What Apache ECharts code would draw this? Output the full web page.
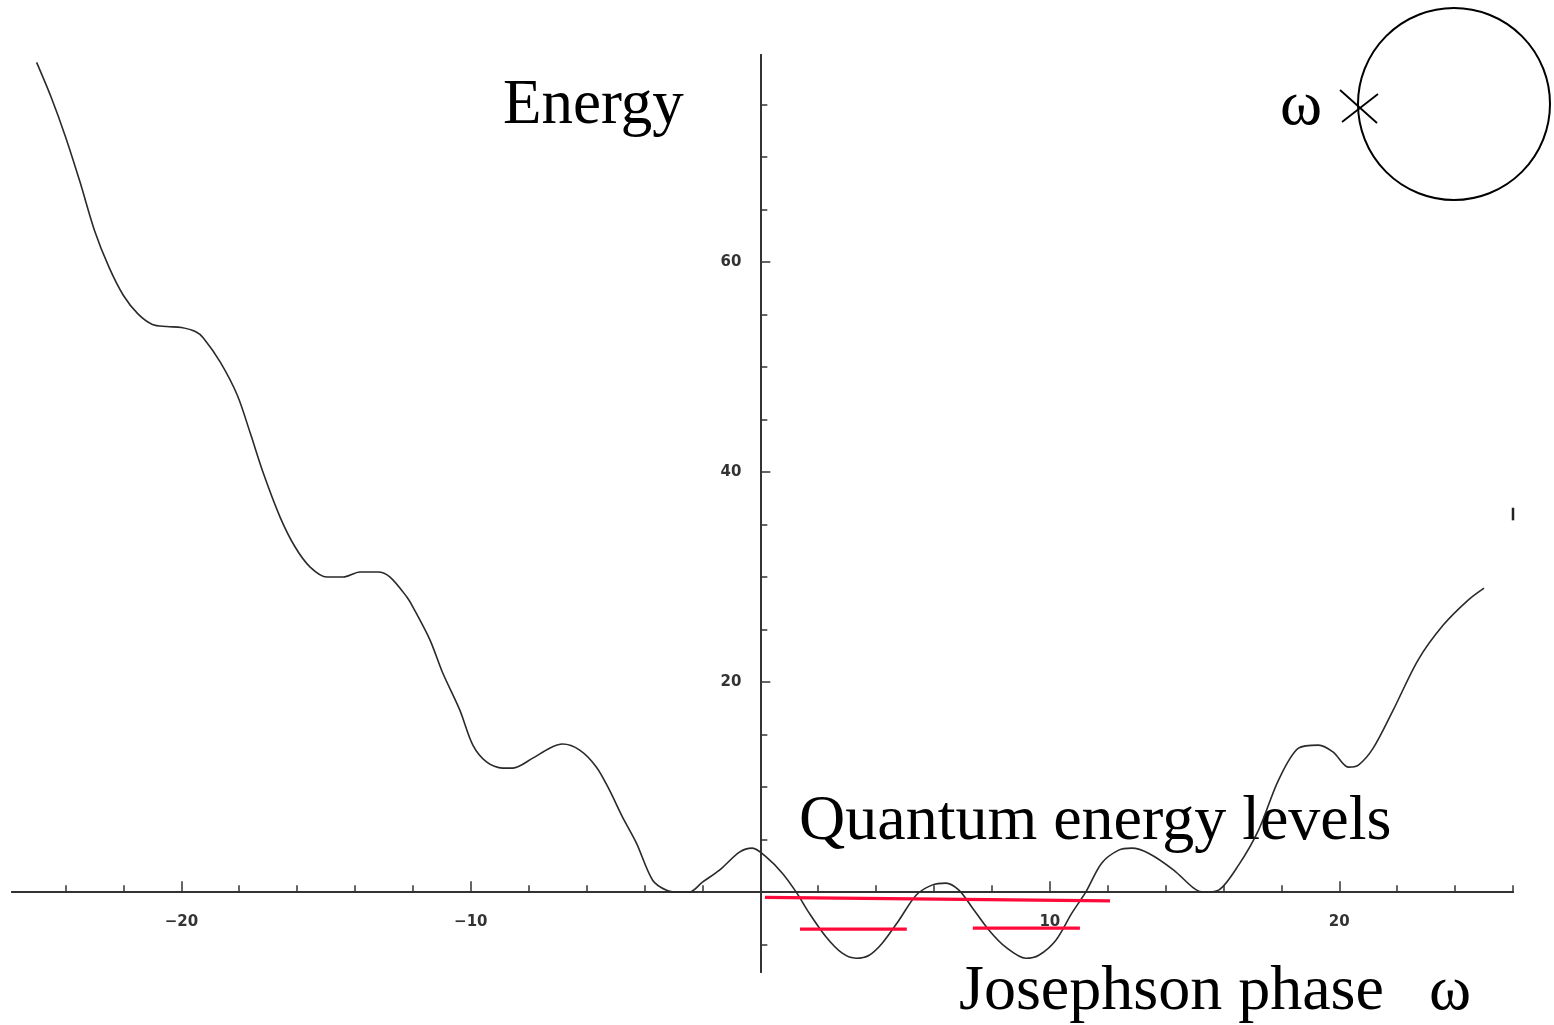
<!DOCTYPE html>
<html>
<head>
<meta charset="utf-8">
<script src="https://cdn.jsdelivr.net/npm/echarts@6/dist/echarts.min.js"></script>
<style>
  html, body { margin: 0; padding: 0; background: #ffffff; }
  #chart { width: 1554px; height: 1025px; }
</style>
</head>
<body>
<div id="chart"></div>
<script>
// Potential energy of the junction versus the Josephson phase
const phase = [
  -25.0, -24.5, -24.0, -23.5, -23.0, -22.5, -22.0, -21.5, -21.0, -20.5,
  -20.0, -19.5, -19.24, -18.66, -18.07, -17.62, -17.17, -16.59, -16.07, -15.55,
  -14.97, -14.41, -13.83, -13.21, -12.79, -12.21, -12.0, -11.41, -10.97, -10.38,
  -9.93, -9.45, -8.90, -8.55, -7.86, -7.28, -6.83, -6.24, -5.66, -5.21,
  -4.76, -4.28, -3.72, -3.24, -2.79, -2.45, -2.0, -1.41, -0.72, -0.28,
  0.21, 0.76, 1.24, 1.69, 2.28, 2.83, 3.31, 3.76, 4.21, 4.79,
  5.38, 5.93, 6.41, 6.86, 7.31, 7.90, 8.48, 9.17, 9.62, 10.21,
  10.76, 11.24, 11.79, 12.38, 12.83, 13.41, 14.28, 14.97, 15.31, 15.83,
  16.52, 17.21, 17.90, 18.59, 19.28, 19.79, 20.31, 20.66, 21.17, 21.86,
  22.72, 23.59, 24.45, 25.0
];
const energy = [
  79.0, 75.7, 71.9, 67.6, 63.0, 59.5, 56.8, 55.05, 54.05, 53.85,
  53.75, 53.35, 52.76, 50.48, 47.33, 43.71, 39.90, 35.71, 32.86, 30.95,
  30.0, 30.0, 30.48, 30.48, 30.0, 28.10, 27.14, 24.0, 20.86, 17.33,
  14.0, 12.38, 11.81, 11.81, 12.76, 13.71, 14.10, 13.52, 11.90, 9.71,
  7.14, 4.67, 1.14, 0.19, 0.0, 0.0, 0.95, 2.10, 3.81, 4.19,
  3.33, 1.81, 0.0, -2.0, -4.29, -5.81, -6.29, -6.0, -4.86, -2.67,
  -0.29, 0.67, 0.86, 0.19, -1.43, -3.62, -5.24, -6.29, -6.0, -4.57,
  -2.0, 0.0, 2.76, 4.0, 4.19, 3.71, 2.10, 0.38, 0.0, 0.19,
  2.57, 5.90, 10.67, 13.71, 14.0, 13.33, 11.90, 12.10, 13.71, 17.33,
  22.10, 25.43, 27.81, 28.95
];

// Quantum energy levels (red bars): the shared level and the two well levels
const sharedLevelX = [0.16, 12.08];
const sharedLevelY = [-0.50, -0.83];
const leftWellX = [1.37, 5.06];
const leftWellY = [-3.52, -3.52];
const rightWellX = [7.34, 11.04];
const rightWellY = [-3.43, -3.43];

// Short stray mark at the right edge of the plot
const edgeMarkX = [26, 26];
const edgeMarkY = [36.6, 35.4];

// Axis ticks and labels
const xMajorTicks = [-20, -10, 10, 20];
const xMinorTicks = [-24, -22, -18, -16, -14, -12, -8, -6, -4, -2, 2, 4, 6, 8, 12, 14, 16, 18, 22, 24, 26];
const yMajorTicks = [20, 40, 60];
const yMinorTicks = [-5, 5, 10, 15, 25, 30, 35, 45, 50, 55, 65, 70, 75];

const X_MIN = -25.85, X_MAX = 26;
const Y_MIN = -7.6, Y_MAX = 79.7;

// Plot area (pixels)
const GRID = { left: 12, right: 41, top: 55, bottom: 53 };
const W = 1554, H = 1025;
const gridW = W - GRID.left - GRID.right;
const gridH = H - GRID.top - GRID.bottom;
// Axes cross at the origin: shift them in from the grid edges
const xAxisShift = -gridH * (0 - Y_MIN) / (Y_MAX - Y_MIN);
const yAxisShift = -gridW * (0 - X_MIN) / (X_MAX - X_MIN);

const pairs = (xs, ys) => xs.map((x, i) => [x, ys[i]]);

const axisColor = '#333333';
const tickLabel = {
  color: '#333333',
  fontFamily: 'DejaVu Sans',
  fontSize: 15,
  fontWeight: 'bold',
  formatter: v => String(v).replace('-', '\u2212')
};

function xAxisDef(ticks, len, withLabels) {
  return {
    type: 'value',
    position: 'bottom',
    offset: xAxisShift,
    min: X_MIN,
    max: X_MAX,
    axisLine: { show: true, onZero: false, lineStyle: { color: axisColor, width: 2 } },
    axisTick: { show: true, inside: true, length: len, customValues: ticks,
                lineStyle: { color: axisColor, width: 1.5 } },
    axisLabel: withLabels
      ? Object.assign({ show: true, margin: 22, customValues: xMajorTicks }, tickLabel)
      : { show: false },
    splitLine: { show: false }
  };
}

function yAxisDef(ticks, len, withLabels) {
  return {
    type: 'value',
    position: 'left',
    offset: yAxisShift,
    min: Y_MIN,
    max: Y_MAX,
    axisLine: { show: true, onZero: false, lineStyle: { color: axisColor, width: 2 } },
    axisTick: { show: true, inside: true, length: len, customValues: ticks,
                lineStyle: { color: axisColor, width: 1.5 } },
    axisLabel: withLabels
      ? Object.assign({ show: true, margin: 19, customValues: yMajorTicks }, tickLabel)
      : { show: false },
    splitLine: { show: false }
  };
}

const redLevel = (xs, ys) => ({
  type: 'line',
  xAxisIndex: 0,
  yAxisIndex: 0,
  data: pairs(xs, ys),
  showSymbol: false,
  silent: true,
  z: 5,
  lineStyle: { color: '#ff0a3a', width: 3.2 }
});

const serifFont = '"Liberation Serif", "Times New Roman", serif';

const chart = echarts.init(document.getElementById('chart'), null, { renderer: 'canvas' });
chart.setOption({
  animation: false,
  backgroundColor: '#ffffff',
  grid: Object.assign({ containLabel: false, outerBoundsMode: 'none' }, GRID),
  xAxis: [xAxisDef(xMajorTicks, 11, true), xAxisDef(xMinorTicks, 7, false)],
  yAxis: [yAxisDef(yMajorTicks, 10, true), yAxisDef(yMinorTicks, 7, false)],
  series: [
    {
      type: 'line',
      xAxisIndex: 0,
      yAxisIndex: 0,
      data: pairs(phase, energy),
      showSymbol: false,
      smooth: 0.3,
      silent: true,
      z: 3,
      lineStyle: { color: '#2a2a2a', width: 1.6 }
    },
    redLevel(sharedLevelX, sharedLevelY),
    redLevel(leftWellX, leftWellY),
    redLevel(rightWellX, rightWellY),
    {
      type: 'line',
      xAxisIndex: 0,
      yAxisIndex: 0,
      data: pairs(edgeMarkX, edgeMarkY),
      showSymbol: false,
      clip: false,
      silent: true,
      lineStyle: { color: '#222222', width: 2.5 }
    }
  ],
  graphic: [
    { type: 'text', x: 503, y: 106,
      style: { text: 'Energy', font: '63px ' + serifFont, fill: '#000', verticalAlign: 'middle', align: 'left' } },
    { type: 'text', x: 799, y: 822,
      style: { text: 'Quantum energy levels', font: '64px ' + serifFont, fill: '#000', verticalAlign: 'middle', align: 'left' } },
    { type: 'text', x: 959, y: 992,
      style: { text: 'Josephson phase', font: '64px ' + serifFont, fill: '#000', verticalAlign: 'middle', align: 'left' } },
    { type: 'text', x: 1429, y: 992,
      style: { text: 'ω', font: '64px ' + serifFont, fill: '#000', verticalAlign: 'middle', align: 'left' } },
    { type: 'text', x: 1280, y: 107,
      style: { text: 'ω', font: '64px ' + serifFont, fill: '#000', verticalAlign: 'middle', align: 'left' } },
    // junction cross on the loop
    { type: 'line', shape: { x1: 1340, y1: 90, x2: 1377, y2: 123 },
      style: { stroke: '#000', lineWidth: 1.8 } },
    { type: 'line', shape: { x1: 1342, y1: 122, x2: 1378, y2: 94 },
      style: { stroke: '#000', lineWidth: 1.8 } },
    // superconducting loop
    { type: 'circle', shape: { cx: 1454, cy: 104, r: 96 },
      style: { stroke: '#000', fill: 'none', lineWidth: 2 } }
  ]
});
</script>
</body>
</html>
